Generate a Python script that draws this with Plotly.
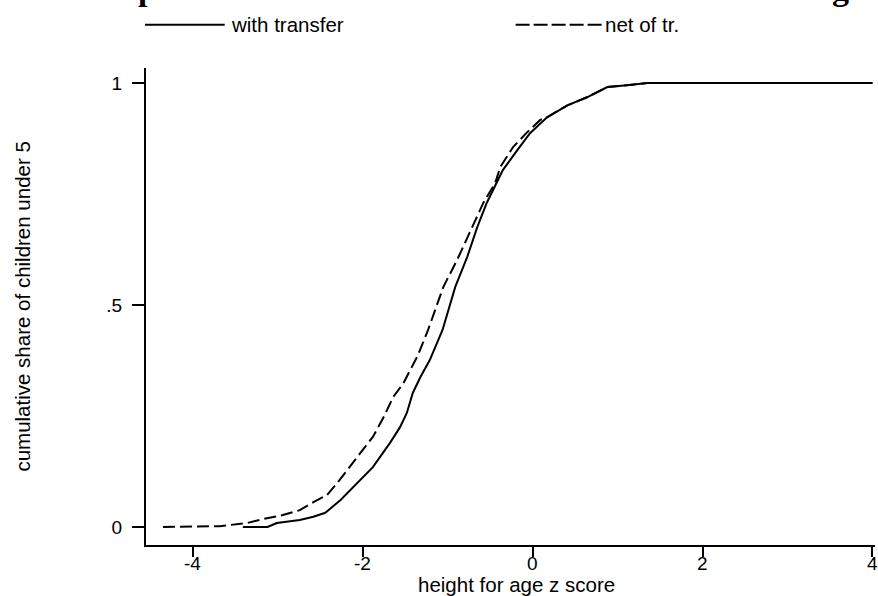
import plotly.graph_objects as go

# Data (height-for-age z score vs cumulative share)
with_transfer_x = [-3.41, -3.12, -3.01, -2.74, -2.58, -2.44, -2.26, -2.03, -1.88, -1.68,
                   -1.56, -1.48, -1.41, -1.32, -1.21, -1.06, -0.91, -0.77, -0.65, -0.54,
                   -0.41, -0.35, -0.18, -0.03, 0.17, 0.41, 0.64, 0.88, 1.11, 1.35, 4.0]
with_transfer_y = [0.0, 0.0, 0.009, 0.016, 0.023, 0.032, 0.061, 0.106, 0.135, 0.189,
                   0.225, 0.257, 0.302, 0.338, 0.376, 0.444, 0.541, 0.608, 0.676, 0.730,
                   0.782, 0.804, 0.849, 0.887, 0.923, 0.950, 0.968, 0.991, 0.995, 1.0, 1.0]

net_x = [-4.35, -3.68, -3.36, -3.17, -2.94, -2.74, -2.58, -2.42, -2.30, -2.11,
         -1.99, -1.88, -1.76, -1.64, -1.52, -1.44, -1.35, -1.23, -1.05, -0.89,
         -0.71, -0.58, -0.44, -0.38, -0.23, -0.06, 0.09, 0.17, 0.41, 0.64, 0.88,
         1.11, 1.35, 4.0]
net_y = [0.0, 0.002, 0.009, 0.018, 0.027, 0.038, 0.056, 0.072, 0.099, 0.146,
         0.178, 0.203, 0.245, 0.293, 0.324, 0.354, 0.387, 0.444, 0.541, 0.601,
         0.676, 0.730, 0.775, 0.811, 0.856, 0.890, 0.917, 0.923, 0.950, 0.968, 0.991,
         0.995, 1.0, 1.0]

series_names = ["with transfer", "net of tr."]
x_ticks = [-4, -2, 0, 2, 4]
x_tick_labels = ["-4", "-2", "0\u200d", "2", "4"]
y_ticks = [0, 0.5, 1]
y_tick_labels = ["0", ".5", "1"]
x_title = "height for age z score"
y_title = "cumulative share of children under 5"

FONT = "Liberation Sans, Arial, sans-serif"
FS = 20.5
TFS = 19

fig = go.Figure()
fig.add_trace(go.Scatter(x=with_transfer_x, y=with_transfer_y, mode="lines",
                         name=series_names[0], line=dict(color="black", width=2),
                         showlegend=False, hoverinfo="skip"))
fig.add_trace(go.Scatter(x=net_x, y=net_y, mode="lines",
                         name=series_names[1],
                         line=dict(color="black", width=2, dash="12px,5px"),
                         showlegend=False, hoverinfo="skip"))

# Manual legend (long line samples like the reference)
fig.add_shape(type="line", xref="paper", yref="paper", x0=-0.0014, x1=0.108,
              y0=1.0905, y1=1.0905, line=dict(color="black", width=2))
fig.add_shape(type="line", xref="paper", yref="paper", x0=0.507, x1=0.625,
              y0=1.0905, y1=1.0905, line=dict(color="black", width=2, dash="14px,4px"))
fig.add_annotation(xref="paper", yref="paper", x=0.114, y=1.0905, text=series_names[0],
                   showarrow=False, xanchor="left", yanchor="middle",
                   font=dict(family=FONT, size=FS, color="black"))
fig.add_annotation(xref="paper", yref="paper", x=0.627, y=1.0905, text=series_names[1],
                   showarrow=False, xanchor="left", yanchor="middle",
                   font=dict(family=FONT, size=FS, color="black"))

# X tick labels placed on the x scale (plain hyphen minus, as in the reference)
for v, t in zip(x_ticks, x_tick_labels):
    fig.add_annotation(xref="x", yref="paper", x=v, y=-0.0398, text=t,
                       showarrow=False, xanchor="center", yanchor="middle",
                       font=dict(family=FONT, size=TFS, color="black"))

# Axis titles as annotations (placed like the reference)
fig.add_annotation(xref="paper", yref="paper", x=-0.170, y=0.5, text=y_title,
                   showarrow=False, xanchor="center", yanchor="middle", textangle=-90,
                   font=dict(family=FONT, size=FS, color="black"))
fig.add_annotation(xref="paper", yref="paper", x=0.508, y=-0.083, text=x_title,
                   showarrow=False, xanchor="center", yanchor="middle",
                   font=dict(family=FONT, size=FS, color="black"))

# Cut-off title descenders at the very top
fig.add_annotation(xref="paper", yref="paper", x=0.0014, y=1.123, text="<b>p</b>",
                   showarrow=False, xanchor="center", yanchor="bottom",
                   font=dict(family="Liberation Serif, Times New Roman, serif", size=34, color="black"))
fig.add_annotation(xref="paper", yref="paper", x=0.952, y=1.123, text="<b>g</b>",
                   showarrow=False, xanchor="center", yanchor="bottom",
                   font=dict(family="Liberation Serif, Times New Roman, serif", size=34, color="black"))

fig.update_layout(
    width=878, height=596,
    margin=dict(l=146, r=3, t=68, b=51),
    paper_bgcolor="white", plot_bgcolor="white",
    hovermode=False,
    font=dict(family=FONT, size=FS, color="black"),
    xaxis=dict(range=[-4.55, 4.03], tickvals=x_ticks,
               showticklabels=False, fixedrange=True,
               showgrid=False, zeroline=False, showline=True, linecolor="black",
               linewidth=2, ticks="outside", ticklen=10, tickwidth=2, tickcolor="black"),
    yaxis=dict(range=[-0.0405, 1.034], tickvals=y_ticks, ticktext=y_tick_labels,
               fixedrange=True,
               showgrid=False, zeroline=False, showline=True, linecolor="black",
               linewidth=2, ticks="outside", ticklen=12, tickwidth=2, tickcolor="black",
               tickfont=dict(size=TFS), ticklabelstandoff=6),
)

fig.write_html("out.html", config={"displayModeBar": False, "staticPlot": True})
